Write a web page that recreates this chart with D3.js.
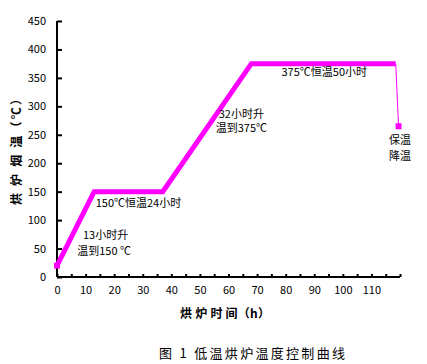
<!DOCTYPE html>
<html>
<head>
<meta charset="utf-8">
<script src="https://cdn.jsdelivr.net/npm/d3@7"></script>
<style>
  body { margin: 0; background: #fff; }
  svg text { font-family: "Noto Sans CJK SC", "Liberation Sans", sans-serif; fill: #000; }
</style>
</head>
<body>
<svg id="chart" width="427" height="364"></svg>
<script>
/* 低温烘炉温度控制曲线 */
const hours = [0, 13, 37, 68, 118.5]
const temps = [20, 150, 150, 375, 375]
const dropHours = [118.5, 119.5]
const dropTemps = [375, 265]

const xTicks = [0, 5, 10, 15, 20, 25, 30, 35, 40, 45, 50, 55, 60, 65, 70, 75, 80, 85, 90, 95, 100, 105, 110, 115, 120]
const xLabels = [0, 10, 20, 30, 40, 50, 60, 70, 80, 90, 100, 110]
const yTicks = [0, 50, 100, 150, 200, 250, 300, 350, 400, 450]

const notes = [
  {text: "13小时升", h: 17, t: 74},
  {text: "温到150 ℃", h: 16.5, t: 45},
  {text: "150℃恒温24小时", h: 28.5, t: 130},
  {text: "32小时升", h: 64.5, t: 287},
  {text: "温到375℃", h: 64.5, t: 261},
  {text: "375℃恒温50小时", h: 93.5, t: 360},
  {text: "保温", h: 120, t: 240},
  {text: "降温", h: 120, t: 213}
]

const svg = d3.select("#chart")

const x = d3.scaleLinear().domain([0, 120]).range([57, 400])
const y = d3.scaleLinear().domain([0, 450]).range([277, 21])

// axes
const xAxis = d3.axisBottom(x)
    .tickValues(xTicks)
    .tickSize(-3)
    .tickPadding(9)
    .tickFormat(d => xLabels.includes(d) ? d : "")

const gx = svg.append("g")
    .attr("transform", "translate(0," + y(0) + ")")
    .call(xAxis)
gx.select(".domain").attr("stroke", "#000").attr("stroke-width", 2).attr("d", "M" + x(0) + ",0H" + x(120))
gx.selectAll(".tick line").attr("stroke", "#000").attr("stroke-width", 2)
gx.selectAll(".tick text").attr("font-family", "Liberation Sans, sans-serif").attr("font-size", 11)

const yAxis = d3.axisLeft(y)
    .tickValues(yTicks)
    .tickSize(-5)
    .tickPadding(11)

const gy = svg.append("g")
    .attr("transform", "translate(" + x(0) + ",0)")
    .call(yAxis)
gy.select(".domain").attr("stroke", "#000").attr("stroke-width", 2).attr("d", "M0," + y(0) + "V" + y(450))
gy.selectAll(".tick line").attr("stroke", "#000").attr("stroke-width", 2)
gy.selectAll(".tick text").attr("font-family", "Liberation Sans, sans-serif").attr("font-size", 11)

// curve
const line = d3.line().x(d => x(d[0])).y(d => y(d[1]))

svg.append("path")
    .datum(hours.map((h, i) => [h, temps[i]]))
    .attr("fill", "none")
    .attr("stroke", "#ff00ff")
    .attr("stroke-width", 5)
    .attr("d", line)

svg.append("path")
    .datum(dropHours.map((h, i) => [h, dropTemps[i]]))
    .attr("fill", "none")
    .attr("stroke", "#ff00ff")
    .attr("stroke-width", 1)
    .attr("d", line)

const marks = [[hours[0], temps[0]], [dropHours[1], dropTemps[1]]]
svg.selectAll("rect.mark")
    .data(marks)
    .enter()
    .append("rect")
    .attr("class", "mark")
    .attr("x", d => x(d[0]) - 3)
    .attr("y", d => y(d[1]) - 3)
    .attr("width", 6)
    .attr("height", 6)
    .attr("fill", "#ff00ff")

// notes
svg.selectAll("text.note")
    .data(notes)
    .enter()
    .append("text")
    .attr("class", "note")
    .attr("x", d => x(d.h))
    .attr("y", d => y(d.t))
    .attr("dy", "0.35em")
    .attr("text-anchor", "middle")
    .attr("font-size", 11)
    .text(d => d.text)

// titles
svg.append("text")
    .attr("transform", "translate(17,149) rotate(-90)")
    .attr("text-anchor", "middle")
    .attr("dy", "0.35em")
    .attr("font-size", 12)
    .attr("font-weight", "bold")
    .attr("textLength", 112)
    .attr("lengthAdjust", "spacing")
    .text("烘 炉 烟 温（℃）")

svg.append("text")
    .attr("x", 225)
    .attr("y", 314)
    .attr("dy", "0.35em")
    .attr("text-anchor", "middle")
    .attr("font-size", 12)
    .attr("font-weight", "bold")
    .attr("textLength", 90)
    .attr("lengthAdjust", "spacing")
    .text("烘 炉 时 间（h）")

svg.append("text")
    .attr("x", 252)
    .attr("y", 353)
    .attr("dy", "0.35em")
    .attr("text-anchor", "middle")
    .attr("font-size", 13)
    .attr("textLength", 186)
    .attr("lengthAdjust", "spacing")
    .text("图 1  低温烘炉温度控制曲线")
</script>
</body>
</html>
